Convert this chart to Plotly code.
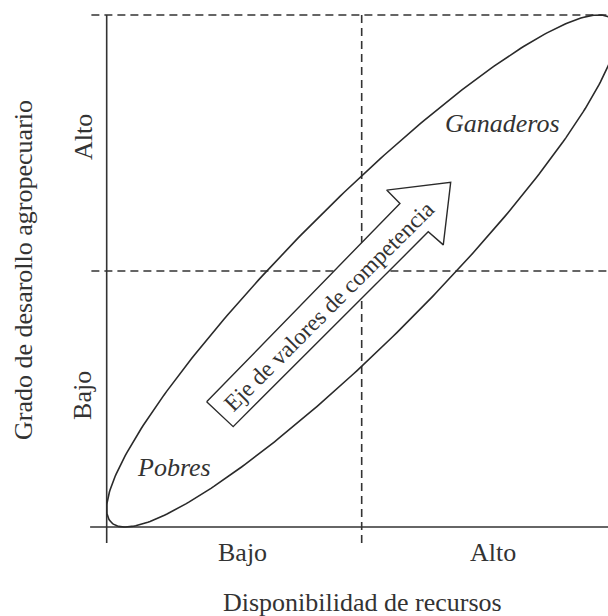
import numpy as np
import plotly.graph_objects as go

# ---- data (diagram content) ----
x_tick_labels = ["Bajo", "Alto"]
y_tick_labels = ["Bajo", "Alto"]
x_title = "Disponibilidad de recursos"
y_title = "Grado de desarollo agropecuario"
group_labels = ["Pobres", "Ganaderos"]
arrow_label = "Eje de valores de competencia"

# ellipse (centre, semi-axes, rotation) in quadrant units
ell_center = (1.0, 1.0)
ell_axes = (1.389, 0.268)
ell_angle_deg = 45

# arrow outline (quadrant units)
arrow_x = [0.392, 1.150, 1.098, 1.349, 1.320, 1.261, 0.496, 0.392]
arrow_y = [0.489, 1.264, 1.316, 1.346, 1.102, 1.153, 0.392, 0.489]

FONT = "Liberation Serif"
INK = "#333333"

t = np.linspace(0, 2 * np.pi, 400)
th = np.deg2rad(ell_angle_deg)
a, b = ell_axes
ex = ell_center[0] + a * np.cos(t) * np.cos(th) - b * np.sin(t) * np.sin(th)
ey = ell_center[1] + a * np.cos(t) * np.sin(th) + b * np.sin(t) * np.cos(th)

fig = go.Figure()
fig.add_trace(go.Scatter(x=ex, y=ey, mode="lines",
                         line=dict(color="#2a2a2a", width=1.6),
                         hoverinfo="skip", showlegend=False))
fig.add_trace(go.Scatter(x=arrow_x, y=arrow_y, mode="lines", fill="toself",
                         fillcolor="white", line=dict(color="#2a2a2a", width=1.4),
                         hoverinfo="skip", showlegend=False))

xr = [-0.0733, 1.9659]
yr = [-0.0742, 2.0195]
dash = "8px,5px"
shapes = [
    # axes
    dict(type="line", x0=0, x1=0, y0=-0.0625, y1=2.0, line=dict(color=INK, width=1.6)),
    dict(type="line", x0=-0.065, x1=xr[1], y0=0, y1=0, line=dict(color=INK, width=1.6)),
    # dashed guides
    dict(type="line", x0=-0.06, x1=xr[1], y0=2.0, y1=2.0, line=dict(color=INK, width=1.6, dash=dash)),
    dict(type="line", x0=-0.06, x1=xr[1], y0=1.0, y1=1.0, line=dict(color=INK, width=1.6, dash=dash)),
    dict(type="line", x0=1.0, x1=1.0, y0=-0.0625, y1=2.0, line=dict(color=INK, width=1.6, dash=dash)),
]
for s in shapes:
    s.update(xref="x", yref="y", layer="below")

annotations = [
    dict(text=x_tick_labels[0], x=0.298, y=-0.0112),
    dict(text=x_tick_labels[1], x=0.779, y=-0.0112),
    dict(text=x_title, x=0.527, y=-0.1063),
    dict(text=y_tick_labels[0], x=-0.0096, y=0.280, textangle=-90),
    dict(text=y_tick_labels[1], x=-0.0096, y=0.763, textangle=-90),
    dict(text=y_title, x=-0.123, y=0.515, textangle=-90),
]
for an in annotations:
    an.update(xref="paper", yref="paper", xanchor="center", yanchor="middle",
              showarrow=False, font=dict(family=FONT, size=26, color=INK))

annotations += [
    dict(text="<i>%s</i>" % group_labels[0], x=0.264, y=0.234, xref="x", yref="y",
         showarrow=False, font=dict(family=FONT, size=26, color=INK)),
    dict(text="<i>%s</i>" % group_labels[1], x=1.554, y=1.578, xref="x", yref="y",
         showarrow=False, font=dict(family=FONT, size=26, color=INK)),
    dict(text=arrow_label, x=0.872, y=0.863, xref="x", yref="y", textangle=-45,
         showarrow=False, font=dict(family=FONT, size=23.5, color=INK)),
]

fig.update_layout(
    width=608, height=616,
    margin=dict(l=88, r=0, t=10, b=70, autoexpand=False),
    paper_bgcolor="white", plot_bgcolor="white",
    xaxis=dict(range=xr, visible=False, fixedrange=True),
    yaxis=dict(range=yr, visible=False, fixedrange=True),
    shapes=shapes, annotations=annotations, showlegend=False,
)
fig.write_html("out.html", config={"displayModeBar": False},
               post_script="document.body.style.margin='0';document.body.style.overflow='hidden';")
